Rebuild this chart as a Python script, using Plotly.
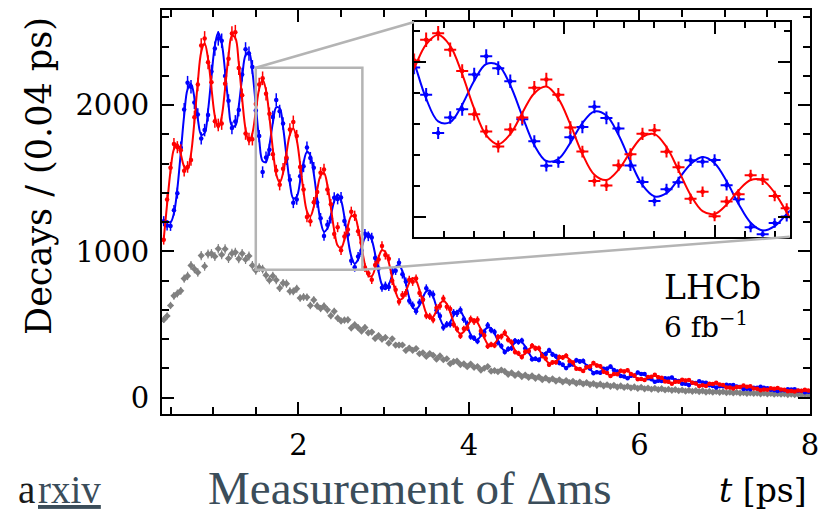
import numpy as np
import plotly.graph_objects as go

# ---- binning of the decay-time axis (0.04 ps bins between 0.4 and 8 ps) ----
T_MIN, T_MAX, BIN_W = 0.4, 8.0, 0.04
n_bins = int(round((T_MAX - T_MIN) / BIN_W))
t = np.linspace(T_MIN + BIN_W / 2, T_MAX - BIN_W / 2, n_bins)

# ---- fitted decay-time model, one value per bin ----
red_fit = [
    1084, 1324, 1551, 1699, 1732, 1666, 1581, 1562, 1665, 1887,
    2155, 2363, 2421, 2318, 2116, 1924, 1844, 1919, 2115, 2336,
    2474, 2458, 2288, 2043, 1835, 1748, 1806, 1958, 2111, 2173,
    2102, 1920, 1698, 1527, 1470, 1535, 1671, 1798, 1840, 1763,
    1597, 1408, 1274, 1240, 1305, 1421, 1517, 1535, 1452, 1302,
    1144, 1040, 1022, 1082, 1174, 1240, 1238, 1158, 1033, 909,
    835, 831, 886, 960, 1007, 995, 924, 819, 723, 671,
    677, 726, 785, 817, 799, 735, 649, 575, 541, 552,
    595, 641, 662, 641, 585, 515, 459, 437, 450, 488,
    523, 535, 513, 465, 409, 366, 353, 369, 400, 427,
    432, 411, 369, 324, 293, 286, 301, 328, 347, 348,
    328, 293, 258, 235, 233, 247, 268, 282, 280, 261,
    232, 204, 189, 190, 202, 219, 228, 225, 208, 184,
    163, 152, 154, 166, 179, 185, 181, 166, 146, 130,
    122, 126, 136, 146, 150, 145, 132, 116, 103, 99,
    103, 112, 119, 122, 116, 105, 92, 83, 81, 84,
    91, 97, 98, 92, 83, 73, 66, 65, 69, 75,
    79, 78, 74, 65, 58, 53, 53, 56, 61, 63,
    63, 59, 51, 46, 43, 43, 45, 49, 51, 50,
]
blue_fit = [
    1216, 1206, 1199, 1261, 1428, 1674, 1929, 2108, 2145, 2053,
    1905, 1797, 1809, 1962, 2194, 2406, 2496, 2425, 2229, 2004,
    1858, 1858, 1992, 2189, 2341, 2362, 2230, 1998, 1763, 1617,
    1612, 1724, 1878, 1985, 1978, 1849, 1651, 1464, 1362, 1375,
    1479, 1606, 1680, 1654, 1531, 1359, 1207, 1135, 1156, 1246,
    1342, 1388, 1348, 1232, 1086, 966, 916, 944, 1021, 1095,
    1123, 1079, 980, 862, 771, 741, 772, 837, 893, 907,
    863, 778, 683, 617, 601, 631, 685, 727, 731, 690,
    617, 543, 494, 487, 517, 561, 591, 589, 550, 490,
    431, 397, 397, 423, 459, 480, 473, 439, 388, 343,
    320, 323, 347, 376, 389, 380, 349, 308, 273, 258,
    264, 285, 306, 315, 305, 277, 244, 218, 208, 215,
    234, 250, 255, 244, 220, 193, 174, 169, 176, 190,
    203, 206, 194, 174, 153, 139, 137, 144, 156, 166,
    166, 156, 138, 122, 112, 111, 118, 128, 135, 133,
    123, 110, 97, 90, 90, 97, 104, 109, 107, 98,
    87, 77, 72, 74, 79, 85, 88, 85, 79, 69,
    61, 58, 60, 65, 70, 71, 69, 62, 55, 49,
    47, 49, 53, 56, 57, 55, 49, 43, 39, 38,
]

# ---- measured candidates per bin ----
red_data = [
    1079, 1354, 1571, 1734, 1712, 1691, 1551, 1577, 1625, 1917,
    2140, 2408, 2456, 2293, 2156, 1889, 1864, 1874, 2145, 2316,
    2489, 2498, 2253, 2068, 1805, 1768, 1766, 2008, 2141, 2183,
    2077, 1940, 1663, 1552, 1455, 1565, 1641, 1833, 1885, 1788,
    1577, 1423, 1234, 1205, 1335, 1406, 1537, 1560, 1422, 1322,
    1119, 1165, 1007, 1102, 1149, 1270, 1243, 1138, 1058, 889,
    850, 806, 906, 945, 1037, 975, 949, 799, 738, 656,
    702, 716, 805, 792, 814, 715, 669, 560, 556, 532,
    615, 626, 677, 621, 605, 500, 469, 422, 470, 478,
    538, 520, 533, 455, 424, 351, 363, 357, 415, 417,
    444, 396, 379, 312, 303, 278, 313, 318, 355, 336,
    338, 285, 268, 225, 241, 241, 278, 274, 286, 251,
    240, 198, 196, 182, 208, 212, 236, 219, 215, 176,
    169, 147, 161, 160, 184, 178, 187, 161, 152, 125,
    127, 120, 141, 142, 156, 140, 136, 111, 108, 95,
    108, 108, 123, 117, 120, 101, 97, 80, 85, 80,
    94, 93, 102, 89, 87, 70, 69, 62, 73, 72,
    82, 75, 77, 63, 61, 50, 56, 54, 64, 60,
    65, 56, 54, 44, 45, 41, 48, 47, 53, 48,
]
blue_data = [
    1206, 1176, 1174, 1281, 1398, 1709, 1969, 2153, 2125, 2018,
    1935, 1772, 1829, 1932, 2229, 2386, 2456, 2440, 2199, 2029,
    1843, 1888, 1967, 2209, 2381, 2352, 2260, 1963, 1788, 1542,
    1642, 1694, 1918, 2035, 1958, 1874, 1631, 1489, 1332, 1355,
    1514, 1581, 1710, 1639, 1571, 1334, 1227, 1105, 1181, 1226,
    1367, 1358, 1368, 1207, 1116, 936, 891, 964, 1006, 1120,
    1103, 1094, 955, 882, 751, 766, 757, 857, 868, 922,
    843, 793, 663, 632, 591, 651, 670, 747, 711, 705,
    597, 558, 479, 502, 502, 581, 576, 599, 535, 505,
    416, 407, 385, 435, 449, 495, 461, 449, 376, 353,
    312, 333, 337, 388, 381, 390, 337, 316, 263, 266,
    258, 295, 298, 323, 295, 283, 236, 225, 202, 223,
    227, 256, 247, 251, 214, 199, 167, 174, 170, 197,
    198, 212, 188, 179, 148, 145, 132, 149, 150, 171,
    162, 161, 133, 126, 108, 116, 114, 133, 131, 137,
    118, 114, 94, 94, 87, 101, 100, 112, 103, 101,
    84, 80, 69, 77, 77, 88, 85, 87, 76, 72,
    59, 60, 57, 67, 68, 74, 67, 64, 53, 51,
    45, 51, 51, 58, 55, 57, 47, 45, 37, 40,
]
untagged_data = [
    533, 558, 630, 696, 712, 730, 814, 832, 904, 880,
    856, 971, 898, 982, 984, 965, 1018, 977, 1016, 951,
    986, 993, 949, 985, 944, 968, 904, 870, 889, 878,
    837, 803, 832, 804, 749, 783, 779, 727, 726, 745,
    681, 688, 686, 630, 668, 627, 609, 625, 600, 560,
    590, 544, 524, 530, 532, 476, 498, 478, 455, 479,
    443, 448, 405, 424, 399, 411, 372, 402, 359, 359,
    360, 322, 339, 323, 335, 300, 306, 281, 301, 289,
    263, 285, 259, 266, 232, 246, 249, 226, 231, 211,
    230, 207, 213, 188, 201, 212, 181, 185, 177, 189,
    179, 159, 170, 151, 163, 144, 154, 138, 149, 132,
    142, 123, 134, 119, 129, 113, 122, 107, 117, 103,
    112, 97, 106, 93, 102, 89, 96, 84, 92, 80,
    88, 77, 84, 72, 80, 69, 77, 67, 73, 63,
    71, 60, 66, 57, 64, 55, 61, 52, 57, 50,
    55, 47, 52, 44, 50, 43, 48, 41, 46, 38,
    43, 37, 42, 36, 40, 33, 37, 32, 37, 31,
    34, 29, 32, 28, 31, 26, 30, 25, 28, 23,
    27, 23, 26, 21, 24, 20, 23, 19, 21, 18,
]

# ---- axis settings ----
X_RANGE = [0.4, 8.0]
Y_RANGE = [-112, 2650]
ZOOM_T = [1.5, 2.75]          # window magnified in the inset
ZOOM_N = [875, 2255]
INSET_T = [3.357, 7.762]      # inset frame, expressed in main-axis units
INSET_N = [1099, 2568]

RED, BLUE, GREY = "#ff0000", "#0000ff", "#808080"
SLATE = "#3b4d5a"
SERIF = "DejaVu Serif, Liberation Serif, serif"
PLAIN_SERIF = "Liberation Serif, serif"

PLOT_L, PLOT_W = 162, 656      # plot-area left edge and width in pixels
PLOT_B, PLOT_H = 414, 406      # plot-area bottom edge and height in pixels


def pois_err(values):
    return np.sqrt(np.asarray(values, dtype=float))


def to_paper_x(v):
    return (v - X_RANGE[0]) / (X_RANGE[1] - X_RANGE[0])


def to_paper_y(v):
    return (v - Y_RANGE[0]) / (Y_RANGE[1] - Y_RANGE[0])


def px_to_paper_x(px):
    return (px - PLOT_L) / PLOT_W


def px_to_paper_y(py):
    return (PLOT_B - py) / PLOT_H


fig = go.Figure()


def add_tagged(xa, ya, marker_size, err_w):
    for fit, data, col in ((blue_fit, blue_data, BLUE), (red_fit, red_data, RED)):
        fig.add_trace(go.Scatter(
            x=t, y=fit, mode="lines", xaxis=xa, yaxis=ya,
            line=dict(color=col, width=2, shape="spline", smoothing=1.0),
            hoverinfo="skip", showlegend=False))
        fig.add_trace(go.Scatter(
            x=t, y=data, mode="markers", xaxis=xa, yaxis=ya,
            marker=dict(color=col, size=marker_size),
            error_y=dict(type="data", array=pois_err(data), color=col,
                         thickness=err_w, width=0),
            error_x=dict(type="constant", value=BIN_W / 2, color=col,
                         thickness=err_w, width=0),
            showlegend=False))


# untagged sample
fig.add_trace(go.Scatter(
    x=t, y=untagged_data, mode="markers",
    marker=dict(color=GREY, size=5.5, symbol="diamond"),
    error_y=dict(type="data", array=pois_err(untagged_data), color=GREY,
                 thickness=1.2, width=0),
    showlegend=False))
add_tagged("x", "y", 4.5, 1.5)
add_tagged("x2", "y2", 4.5, 2.0)

axis_common = dict(
    showgrid=False, zeroline=False, showline=True, linecolor="black",
    linewidth=2, mirror="ticks", ticks="inside", tickcolor="black",
    tickwidth=2, ticklen=12,
)

fig.update_layout(
    width=827, height=515,
    margin=dict(l=162, r=9, t=8, b=101),
    paper_bgcolor="white", plot_bgcolor="white",
    xaxis=dict(range=X_RANGE, tick0=0, dtick=2,
               minor=dict(ticks="inside", ticklen=7, tickwidth=1.5,
                          tickcolor="black", tick0=0, dtick=0.5),
               tickfont=dict(family=SERIF, size=29, color="black"),
               ticklabelstandoff=4, **axis_common),
    yaxis=dict(range=Y_RANGE, tick0=0, dtick=1000,
               minor=dict(ticks="inside", ticklen=7, tickwidth=1.5,
                          tickcolor="black", tick0=0, dtick=200),
               tickfont=dict(family=SERIF, size=29, color="black"),
               ticklabelstandoff=5, **axis_common),
    xaxis2=dict(range=ZOOM_T, anchor="y2",
                domain=[to_paper_x(INSET_T[0]), to_paper_x(INSET_T[1])],
                tick0=0, dtick=0.5, showticklabels=False,
                minor=dict(ticks="inside", ticklen=6, tickwidth=1.5,
                           tickcolor="black", tick0=0, dtick=0.1),
                **axis_common),
    yaxis2=dict(range=ZOOM_N, anchor="x2",
                domain=[to_paper_y(INSET_N[0]), to_paper_y(INSET_N[1])],
                tick0=0, dtick=1000, showticklabels=False,
                minor=dict(ticks="inside", ticklen=6, tickwidth=1.5,
                           tickcolor="black", tick0=0, dtick=200),
                **axis_common),
)

# zoom window and the guide lines towards the inset
frame_grey = dict(color="#b4b4b4", width=2.5)
fig.add_shape(type="rect", xref="x", yref="y", x0=ZOOM_T[0], x1=ZOOM_T[1],
              y0=ZOOM_N[0], y1=ZOOM_N[1], line=frame_grey)
fig.add_shape(type="line", xref="x", yref="y", x0=ZOOM_T[0], y0=ZOOM_N[1],
              x1=INSET_T[0], y1=INSET_N[1], line=frame_grey)
fig.add_shape(type="line", xref="x", yref="y", x0=ZOOM_T[1], y0=ZOOM_N[0],
              x1=INSET_T[1], y1=INSET_N[0], line=frame_grey)

# labels
fig.add_annotation(xref="x", yref="y", x=6.27, y=755, xanchor="left",
                   yanchor="middle", showarrow=False, text="LHCb",
                   font=dict(family=SERIF, size=33, color="black"))
fig.add_annotation(xref="x", yref="y", x=6.27, y=490, xanchor="left",
                   yanchor="middle", showarrow=False,
                   text="6 fb<sup>\u22121</sup>",
                   font=dict(family=SERIF, size=28, color="black"))
fig.add_annotation(xref="paper", yref="paper", x=-0.19, y=0.589,
                   xanchor="center", yanchor="middle", textangle=-90,
                   showarrow=False, text="Decays / (0.04 ps)",
                   font=dict(family=SERIF, size=35, color="black"))
fig.add_annotation(xref="paper", yref="paper", x=0.998, y=px_to_paper_y(491),
                   xanchor="right", yanchor="middle", showarrow=False,
                   text="<i>t</i> [ps]",
                   font=dict(family=SERIF, size=33, color="black"))
fig.add_annotation(xref="paper", yref="paper", x=px_to_paper_x(207),
                   y=px_to_paper_y(488), xanchor="left", yanchor="middle",
                   showarrow=False, text="Measurement of \u0394ms",
                   font=dict(family=PLAIN_SERIF, size=47, color=SLATE))
# "arxiv" link text: black initial, underlined slate remainder
fig.add_annotation(xref="paper", yref="paper", x=px_to_paper_x(35),
                   y=px_to_paper_y(490), xanchor="right", yanchor="middle",
                   showarrow=False, text="a",
                   font=dict(family=PLAIN_SERIF, size=39, color="#1a1a1a"))
fig.add_annotation(xref="paper", yref="paper", x=px_to_paper_x(34),
                   y=px_to_paper_y(490), xanchor="left", yanchor="middle",
                   showarrow=False, text="<u>rxiv</u>",
                   font=dict(family=PLAIN_SERIF, size=39, color=SLATE))

fig.write_html("out.html")
